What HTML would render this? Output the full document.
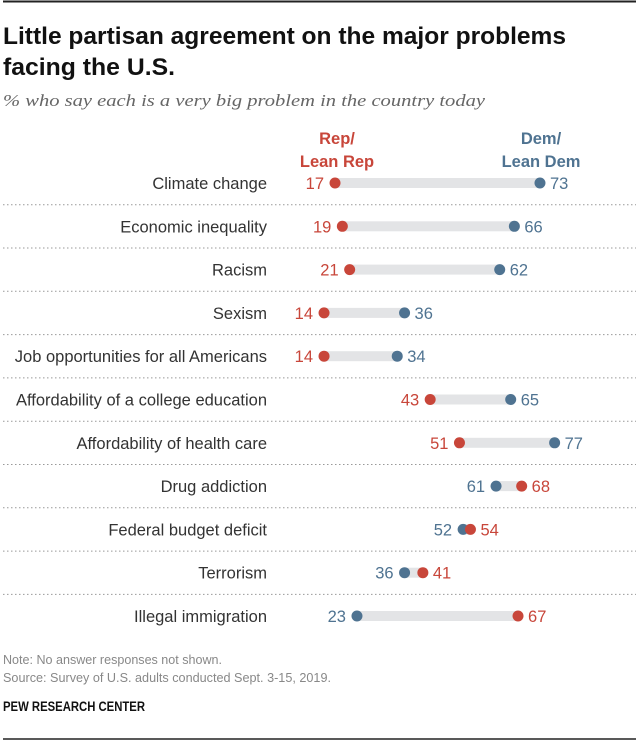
<!DOCTYPE html>
<html><head><meta charset="utf-8"><style>
body{margin:0;background:#fff}
svg{display:block;font-family:"Liberation Sans",sans-serif}
</style></head><body>
<svg id="chart" width="639" height="745" viewBox="0 0 639 745">
<line x1="3" y1="1.5" x2="636" y2="1.5" stroke="#222" stroke-width="2"/>
<text x="3" y="44" font-size="24" font-weight="bold" fill="#111" textLength="563" lengthAdjust="spacingAndGlyphs">Little partisan agreement on the major problems</text>
<text x="3" y="75" font-size="24" font-weight="bold" fill="#111" textLength="172" lengthAdjust="spacingAndGlyphs">facing the U.S.</text>
<text x="3" y="106" font-size="17" font-style="italic" fill="#666" font-family="Liberation Serif,serif" textLength="482" lengthAdjust="spacingAndGlyphs">% who say each is a very big problem in the country today</text>
<g font-size="16.5" font-weight="bold" text-anchor="middle">
<text x="337" y="144" fill="#c8463a">Rep/</text>
<text x="337" y="167" fill="#c8463a">Lean Rep</text>
<text x="541" y="144" fill="#4f7391">Dem/</text>
<text x="541" y="167" fill="#4f7391">Lean Dem</text>
</g>
<g id="rows"></g>
<text x="3" y="664" font-size="13" fill="#888" textLength="219" lengthAdjust="spacingAndGlyphs">Note: No answer responses not shown.</text>
<text x="3" y="682" font-size="13" fill="#888" textLength="328" lengthAdjust="spacingAndGlyphs">Source: Survey of U.S. adults conducted Sept. 3-15, 2019.</text>
<text x="3" y="711" font-size="13.5" font-weight="bold" fill="#111" textLength="142" lengthAdjust="spacingAndGlyphs">PEW RESEARCH CENTER</text>
<line x1="3" y1="739" x2="636" y2="739" stroke="#222" stroke-width="1.5"/>
</svg>
<script>
const categories=["Climate change","Economic inequality","Racism","Sexism","Job opportunities for all Americans","Affordability of a college education","Affordability of health care","Drug addiction","Federal budget deficit","Terrorism","Illegal immigration"];
const repValues=[17,19,21,14,14,43,51,68,54,41,67];
const demValues=[73,66,62,36,34,65,77,61,52,36,23];
const RED="#c8463a",BLUE="#4f7391";
const NS="http://www.w3.org/2000/svg";
function x(v){return 272.8+v*3.66;}
function y(i){return 183+i*43.3;}
const g=document.getElementById('rows');
function mk(tag,attrs){const e=document.createElementNS(NS,tag);for(const k in attrs)e.setAttribute(k,attrs[k]);g.appendChild(e);return e;}
categories.forEach((c,i)=>{
  const yy=y(i),r=repValues[i],d=demValues[i];
  if(i>0){const s=mk('line',{x1:3,x2:636,y1:yy-21.6,y2:yy-21.6,stroke:'#999','stroke-width':1,'stroke-dasharray':'1.5,2.5'});
  
  }
  const lab=mk('text',{x:267,y:yy+6,'font-size':16.5,fill:'#333','text-anchor':'end'});lab.textContent=c;
  
  
  const lo=Math.min(r,d),hi=Math.max(r,d);
  const bar=mk('rect',{x:x(lo),y:yy-5,width:x(hi)-x(lo),height:10,fill:'#e3e4e6'});
  
  
  const repLeft=r<=d;
  [[d,BLUE,'dem',!repLeft],[r,RED,'rep',repLeft]].forEach(([v,col,nm,left])=>{
    const dot=mk('circle',{cx:x(v),cy:yy,r:5.5,fill:col});
    
    
    const t=mk('text',{x:left?x(v)-11:x(v)+10,y:yy+6,'font-size':16.5,fill:col,'text-anchor':left?'end':'start'});
    t.textContent=v;
    
    
  });
});
</script>
</body></html>
